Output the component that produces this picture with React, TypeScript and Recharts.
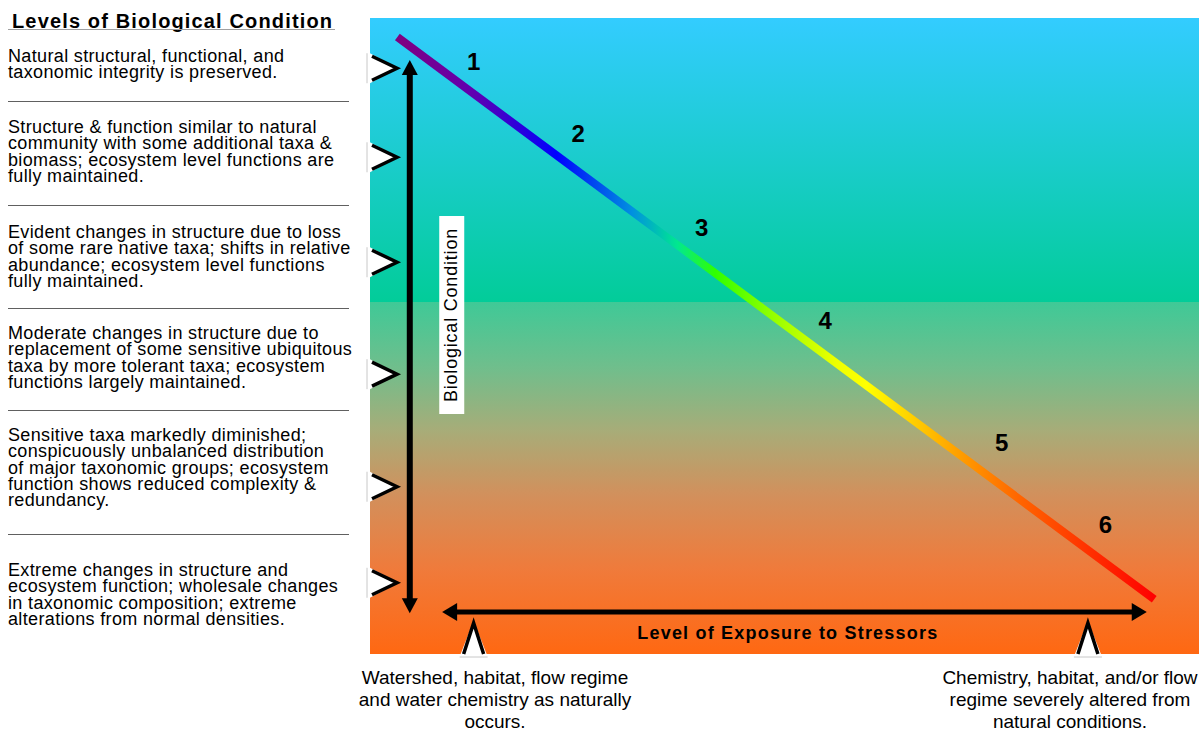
import React from 'react';
import {
  ComposedChart,
  XAxis,
  YAxis,
  Line,
  Scatter,
  ReferenceArea,
  ReferenceLine,
  ReferenceDot,
} from 'recharts';

// numbered tiers placed along the stress-response curve
const tierNames = ['1', '2', '3', '4', '5', '6'];
const tierX = [12.5, 25.1, 40.0, 54.9, 76.2, 88.7];
const tierY = [93.1, 81.9, 67.1, 52.5, 33.3, 20.3];

// chevrons on the left edge (condition) and bottom edge (exposure)
const conditionMarks = [92.1, 78.1, 61.6, 44.0, 26.3, 11.2];
const exposureMarks = [12.5, 86.6];

// the response curve itself
const curveX = [3.3, 94.6];
const curveY = [97.0, 8.6];

const tierText = [
  ['Natural structural, functional, and', 'taxonomic integrity is preserved.'],
  [
    'Structure & function similar to natural',
    'community with some additional taxa &',
    'biomass; ecosystem level functions are',
    'fully maintained.',
  ],
  [
    'Evident changes in structure due to loss',
    'of some rare native taxa; shifts in relative',
    'abundance; ecosystem level functions',
    'fully maintained.',
  ],
  [
    'Moderate changes in structure due to',
    'replacement of some sensitive ubiquitous',
    'taxa by more tolerant taxa; ecosystem',
    'functions largely maintained.',
  ],
  [
    'Sensitive taxa markedly diminished;',
    'conspicuously unbalanced distribution',
    'of major taxonomic groups; ecosystem',
    'function shows reduced complexity &',
    'redundancy.',
  ],
  [
    'Extreme changes in structure and',
    'ecosystem function; wholesale changes',
    'in taxonomic composition; extreme',
    'alterations from normal densities.',
  ],
];
const tierTextTop = [48, 119, 224, 325, 427, 562];
const dividerTop = [101, 205, 308, 410, 534];

const exposureText = [
  ['Watershed, habitat, flow regime', 'and water chemistry as naturally', 'occurs.'],
  ['Chemistry, habitat, and/or flow', 'regime severely altered from', 'natural conditions.'],
];
const exposureTextCenter = [495, 1070];

const FONT = '"Liberation Sans", Arial, Helvetica, sans-serif';

const curveData = curveX.map((x, i) => ({ x, y: curveY[i] }));
const tierData = tierNames.map((name, i) => ({ x: tierX[i], y: tierY[i], name }));
const conditionData = conditionMarks.map((y) => ({ x: 0, y }));
const exposureData = exposureMarks.map((x) => ({ x, y: 0 }));

function TierLabel(props: any) {
  const { cx, cy, payload } = props;
  return (
    <text
      x={cx}
      y={cy}
      textAnchor="middle"
      dominantBaseline="central"
      fontFamily={FONT}
      fontWeight="bold"
      fontSize={24}
      fill="#000"
    >
      {payload.name}
    </text>
  );
}

function SideChevron(props: any) {
  const { cx, cy } = props;
  return (
    <g>
      <line x1={cx - 3} y1={cy - 15} x2={cx - 3} y2={cy + 15} stroke="#c8c8c8" strokeWidth={1} />
      <polygon points={`${cx},${cy - 15} ${cx + 28},${cy} ${cx},${cy + 15}`} fill="#fff" />
      <polyline
        points={`${cx + 2},${cy - 12} ${cx + 27},${cy} ${cx + 2},${cy + 12}`}
        fill="none"
        stroke="#000"
        strokeWidth={3.5}
      />
    </g>
  );
}

function BottomChevron(props: any) {
  const { cx, cy } = props;
  return (
    <g>
      <line x1={cx - 14} y1={cy + 3} x2={cx + 14} y2={cy + 3} stroke="#c8c8c8" strokeWidth={1} />
      <polygon points={`${cx - 13},${cy} ${cx},${cy - 33} ${cx + 13},${cy}`} fill="#fff" />
      <polyline
        points={`${cx - 10},${cy} ${cx},${cy - 31} ${cx + 10},${cy}`}
        fill="none"
        stroke="#000"
        strokeWidth={3.5}
      />
    </g>
  );
}

function makeArrow(width: number, head: number, half: number) {
  return (props: any) => {
    const { x1, y1, x2, y2 } = props;
    const len = Math.hypot(x2 - x1, y2 - y1);
    const ux = (x2 - x1) / len;
    const uy = (y2 - y1) / len;
    const nx = -uy;
    const ny = ux;
    const headPts = (tx: number, ty: number, dir: number) => {
      const bx = tx - dir * ux * head;
      const by = ty - dir * uy * head;
      return `${tx},${ty} ${bx + nx * half},${by + ny * half} ${bx - nx * half},${by - ny * half}`;
    };
    return (
      <g>
        <line
          x1={x1 + ux * head * 0.8}
          y1={y1 + uy * head * 0.8}
          x2={x2 - ux * head * 0.8}
          y2={y2 - uy * head * 0.8}
          stroke="#000"
          strokeWidth={width}
        />
        <polygon points={headPts(x1, y1, -1)} fill="#000" />
        <polygon points={headPts(x2, y2, 1)} fill="#000" />
      </g>
    );
  };
}

function ConditionTitle(props: any) {
  const { cx, cy } = props;
  return (
    <g>
      <rect x={cx - 12} y={cy - 99} width={25} height={198} fill="#fff" />
      <text
        x={cx}
        y={cy}
        transform={`rotate(-90 ${cx} ${cy})`}
        textAnchor="middle"
        dominantBaseline="central"
        fontFamily={FONT}
        fontSize={18}
        letterSpacing={0.8}
        fill="#000"
      >
        Biological Condition
      </text>
    </g>
  );
}

function ExposureTitle(props: any) {
  const { cx, cy } = props;
  return (
    <text
      x={cx}
      y={cy}
      textAnchor="middle"
      dominantBaseline="central"
      fontFamily={FONT}
      fontWeight="bold"
      fontSize={18}
      letterSpacing={1.2}
      fill="#000"
    >
      Level of Exposure to Stressors
    </text>
  );
}

export default function App() {
  return (
    <div
      style={{
        position: 'absolute',
        left: 0,
        top: 0,
        width: 1203,
        height: 734,
        background: '#fff',
        fontFamily: FONT,
        color: '#000',
      }}
    >
      <ComposedChart
        width={1203}
        height={734}
        margin={{ top: 18, right: 4, bottom: 80, left: 370 }}
      >
        <defs>
          <linearGradient id="bgGrad" x1="0" y1="0" x2="0" y2="1">
            <stop offset="0" stopColor="#33CCFF" />
            <stop offset="0.4465" stopColor="#02CC99" />
            <stop offset="0.4465" stopColor="#3FC997" />
            <stop offset="0.55" stopColor="#70BE8C" />
            <stop offset="0.65" stopColor="#A8AC78" />
            <stop offset="0.75" stopColor="#D2905C" />
            <stop offset="0.87" stopColor="#F07A3A" />
            <stop offset="1" stopColor="#FF6812" />
          </linearGradient>
          <linearGradient id="curveGrad" x1="0" y1="0" x2="1" y2="0">
            <stop offset="0" stopColor="#800080" />
            <stop offset="0.1" stopColor="#6000B0" />
            <stop offset="0.21" stopColor="#0000FF" />
            <stop offset="0.31" stopColor="#0090E0" />
            <stop offset="0.37" stopColor="#00E890" />
            <stop offset="0.42" stopColor="#30FF00" />
            <stop offset="0.5" stopColor="#99FF00" />
            <stop offset="0.58" stopColor="#EEFF00" />
            <stop offset="0.62" stopColor="#FFFF00" />
            <stop offset="0.74" stopColor="#FFA000" />
            <stop offset="0.82" stopColor="#FF6600" />
            <stop offset="1" stopColor="#FF0000" />
          </linearGradient>
        </defs>
        <XAxis type="number" dataKey="x" domain={[0, 100]} hide />
        <YAxis type="number" dataKey="y" domain={[0, 100]} hide />
        <ReferenceArea
          x1={0}
          x2={100}
          y1={0}
          y2={100}
          fill="url(#bgGrad)"
          fillOpacity={1}
          stroke="none"
        />
        <Line
          data={curveData}
          dataKey="y"
          stroke="url(#curveGrad)"
          strokeWidth={8}
          dot={false}
          activeDot={false}
          isAnimationActive={false}
        />
        <ReferenceLine
          segment={[
            { x: 4.8, y: 93.4 },
            { x: 4.8, y: 6.4 },
          ]}
          shape={makeArrow(6, 15, 8)}
        />
        <ReferenceLine
          segment={[
            { x: 8.7, y: 6.6 },
            { x: 93.7, y: 6.6 },
          ]}
          shape={makeArrow(5, 15, 9)}
        />
        <ReferenceDot x={9.8} y={53.3} shape={ConditionTitle} />
        <ReferenceDot x={50.4} y={3.3} shape={ExposureTitle} />
        <Scatter data={tierData} dataKey="y" shape={TierLabel} isAnimationActive={false} />
        <Scatter data={conditionData} dataKey="y" shape={SideChevron} isAnimationActive={false} />
        <Scatter data={exposureData} dataKey="y" shape={BottomChevron} isAnimationActive={false} />
      </ComposedChart>

      <div
        style={{
          position: 'absolute',
          left: 12,
          top: 9,
          fontSize: 20,
          lineHeight: '24px',
          fontWeight: 'bold',
          letterSpacing: 1.15,
          whiteSpace: 'nowrap',
        }}
      >
        Levels of Biological Condition
      </div>
      <div
        style={{
          position: 'absolute',
          left: 8,
          top: 29,
          width: 327,
          height: 0,
          borderTop: '1px solid #a0a0a0',
        }}
      />
      {tierText.map((lines, i) => (
        <div
          key={i}
          style={{
            position: 'absolute',
            left: 8,
            top: tierTextTop[i],
            fontSize: 18,
            lineHeight: '16.3px',
            whiteSpace: 'nowrap',
            letterSpacing: 0.35,
          }}
        >
          {lines.map((l, j) => (
            <div key={j}>{l}</div>
          ))}
        </div>
      ))}
      {dividerTop.map((t, i) => (
        <div
          key={i}
          style={{
            position: 'absolute',
            left: 8,
            top: t,
            width: 341,
            height: 0,
            borderTop: '1.5px solid #606060',
          }}
        />
      ))}
      {exposureText.map((lines, i) => (
        <div
          key={i}
          style={{
            position: 'absolute',
            left: exposureTextCenter[i] - 170,
            top: 667,
            width: 340,
            textAlign: 'center',
            fontSize: 19,
            lineHeight: '22px',
            whiteSpace: 'nowrap',
          }}
        >
          {lines.map((l, j) => (
            <div key={j}>{l}</div>
          ))}
        </div>
      ))}
    </div>
  );
}
